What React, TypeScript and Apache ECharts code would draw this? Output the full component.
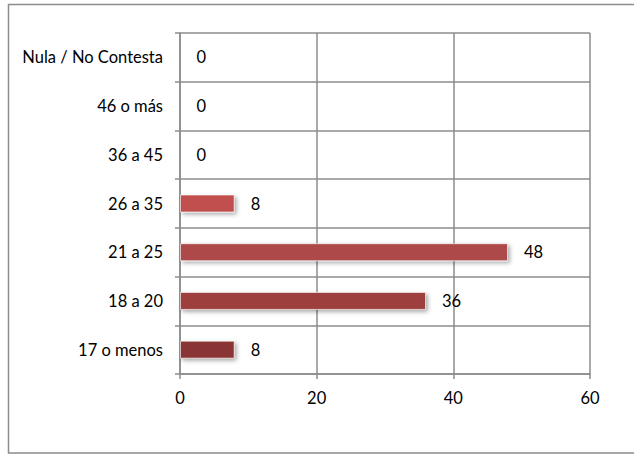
import React, { useEffect, useRef } from "react";
import * as echarts from "echarts";

const categories = ["17 o menos", "18 a 20", "21 a 25", "26 a 35", "36 a 45", "46 o más", "Nula / No Contesta"];
const values = [8, 36, 48, 8, 0, 0, 0];
const barColors = ["#8A3634", "#9D403E", "#AE4A48", "#C0504D", "#C0504D", "#C0504D", "#C0504D"];
const xTicks = { min: 0, max: 60, interval: 20 };

const FONT = "Lato, 'Open Sans', sans-serif";
const FS = 16.5;

export default function App() {
  const ref = useRef<HTMLDivElement>(null);
  useEffect(() => {
    if (!ref.current) return;
    const chart = echarts.init(ref.current, undefined, { renderer: "svg" });
    chart.setOption({
      animation: false,
      backgroundColor: "#ffffff",
      textStyle: { fontFamily: FONT },
      graphic: [
        {
          type: "rect",
          shape: { x: 8.5, y: 4.5, width: 700, height: 448.5 },
          style: { fill: "none", stroke: "#8c8c8c", lineWidth: 1.5 },
          silent: true,
          z: -1,
        },
      ],
      grid: { left: 180, right: 44, top: 33, bottom: 80, containLabel: false },
      xAxis: {
        type: "value",
        min: xTicks.min,
        max: xTicks.max,
        interval: xTicks.interval,
        axisLine: { show: true, lineStyle: { color: "#8c8c8c", width: 1.5 } },
        axisTick: { show: true, length: 5, lineStyle: { color: "#8c8c8c", width: 1.5 } },
        splitLine: { show: true, lineStyle: { color: "#8c8c8c", width: 1.5 } },
        axisLabel: { color: "#000", fontSize: FS, margin: 15, fontFamily: FONT },
      },
      yAxis: {
        type: "category",
        data: categories,
        axisLine: { show: true, lineStyle: { color: "#8c8c8c", width: 1.5 } },
        axisTick: { show: true, length: 5, lineStyle: { color: "#8c8c8c", width: 1.5 } },
        splitLine: { show: true, lineStyle: { color: "#8c8c8c", width: 1.5 } },
        axisLabel: { color: "#000", fontSize: FS, margin: 17, fontFamily: FONT },
      },
      series: [
        {
          type: "bar",
          barWidth: 18,
          data: values.map((v, i) => ({
            value: v,
            itemStyle: {
              color: barColors[i],
              borderColor: "rgba(255,255,255,0.6)",
              borderWidth: 1,
              shadowBlur: 4,
              shadowColor: "rgba(0,0,0,0.35)",
              shadowOffsetX: 2,
              shadowOffsetY: 2,
            },
          })),
          label: {
            show: true,
            position: "right",
            distance: 16,
            color: "#000",
            fontSize: FS,
            fontFamily: FONT,
          },
        },
      ],
    });
    return () => chart.dispose();
  }, []);
  return (
    <div
      ref={ref}
      style={{ position: "absolute", left: 0, top: 0, width: 634, height: 454 }}
    />
  );
}
